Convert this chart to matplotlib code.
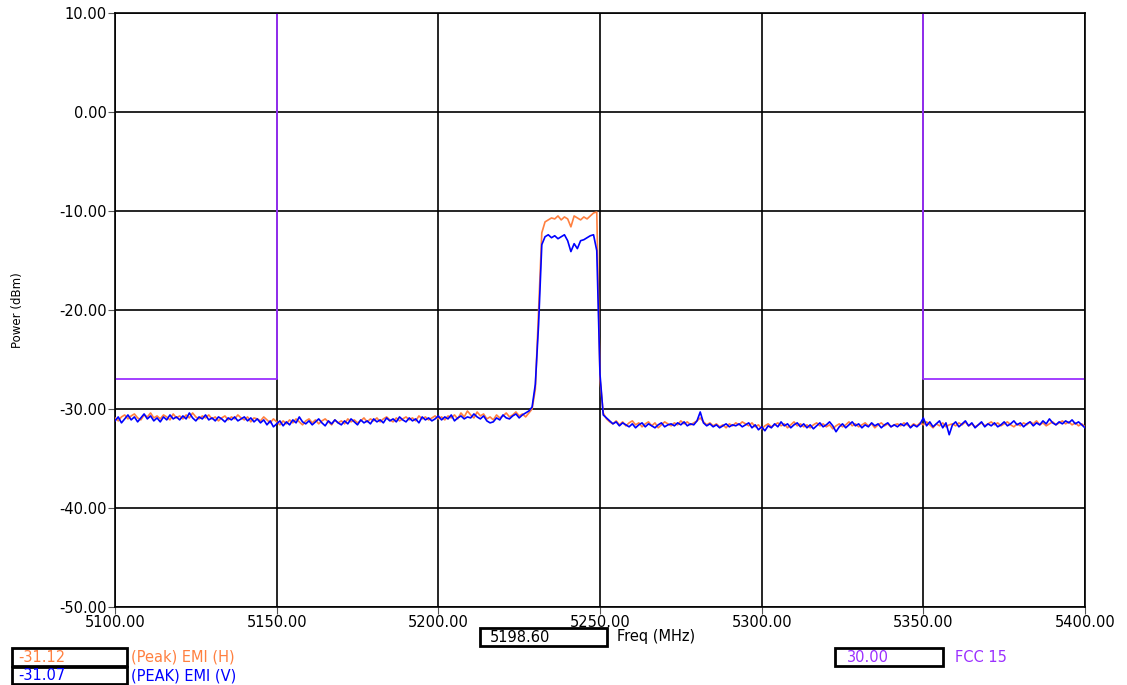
import numpy as np
import matplotlib.pyplot as plt
from matplotlib.patches import Rectangle

# sweep 5100..5400 MHz, 1 MHz steps
freq = np.arange(5100, 5401, 1)

emi_h = [
    -30.9, -31.2, -30.8, -30.6, -31.0, -30.7, -30.5, -30.9, -31.1, -30.6,
    -30.8, -30.4, -30.9, -30.7, -31.0, -30.6, -30.8, -31.1, -30.5, -30.9,
    -30.7, -31.0, -30.6, -30.9, -30.4, -30.8, -31.0, -30.7, -30.9, -30.6,
    -31.0, -30.8, -31.2, -30.9, -30.7, -31.1, -30.8, -31.0, -30.6, -30.9,
    -31.1, -30.8, -31.3, -30.9, -31.0, -31.2, -30.8, -31.1, -31.4, -31.0,
    -31.3, -31.6, -31.2, -31.5, -31.1, -31.4, -31.0, -31.3, -31.6, -31.2,
    -31.0, -31.4, -31.1, -31.5, -31.2, -31.0, -31.3, -31.6, -31.1, -31.4,
    -31.2, -31.5, -31.0, -31.3, -31.1, -31.4, -31.2, -30.9, -31.3, -31.0,
    -31.2, -30.9, -31.3, -31.0, -30.8, -31.1, -31.3, -30.9, -31.2, -31.0,
    -30.8, -31.1, -30.9, -31.2, -30.7, -31.0, -30.8, -31.1, -30.9, -30.7,
    -31.0, -30.8, -31.1, -30.7, -30.9, -30.6, -31.0, -30.4, -30.8, -30.2,
    -30.6, -30.9, -30.3, -30.7, -30.5, -31.0, -30.8, -31.1, -30.6, -30.9,
    -30.7, -30.4, -30.8, -30.6, -30.3, -30.7, -30.5, -30.8, -30.4,
    # 5229 .. 5251
    -30.0, -28.0, -20.0, -12.2, -11.1, -10.9, -10.7, -10.8, -10.5, -10.9,
    -10.6, -10.8, -11.6, -10.5, -10.7, -10.9, -10.6, -10.8, -10.5, -10.2,
    -10.1, -27.0, -30.4,
    # 5252 .. 5400
    -31.0, -31.3, -31.5, -31.2, -31.6, -31.3, -31.7, -31.4, -31.2, -31.6,
    -31.4, -31.8, -31.5, -31.3, -31.7, -31.4, -31.9, -31.6, -31.3, -31.5,
    -31.7, -31.4, -31.6, -31.2, -31.5, -31.3, -31.6, -31.4, -31.2, -30.9,
    -31.3, -31.6, -31.4, -31.7, -31.5, -31.8, -31.6, -31.9, -31.5, -31.7,
    -31.4, -31.6, -31.3, -31.5, -31.7, -31.4, -31.8, -31.6, -32.0, -31.7,
    -31.5, -31.8, -31.6, -31.4, -31.7, -31.5, -31.9, -31.6, -31.3, -31.7,
    -31.5, -31.8, -31.6, -31.9, -31.6, -31.4, -31.7, -31.5, -31.8, -31.6,
    -32.0, -31.7, -31.5, -31.8, -31.6, -31.3, -31.7, -31.5, -31.8, -31.6,
    -31.4, -31.7, -31.5, -31.9, -31.6, -31.4, -31.7, -31.5, -31.8, -31.6,
    -31.5, -31.7, -31.4, -31.6, -31.8, -31.5, -31.7, -31.4, -31.6, -31.3,
    -31.6, -31.9, -31.5, -31.7, -31.4, -31.8, -31.6, -31.5, -31.7, -31.4,
    -31.6, -31.3, -31.7, -31.5, -31.8, -31.6, -31.4, -31.7, -31.5, -31.3,
    -31.6, -31.4, -31.7, -31.5, -31.3, -31.6, -31.8, -31.5, -31.7, -31.4,
    -31.6, -31.3, -31.5, -31.2, -31.6, -31.4, -31.7, -31.5, -31.3, -31.6,
    -31.4, -31.2, -31.5, -31.3, -31.6, -31.4, -31.7, -31.5, -31.8,
]

emi_v = [
    -31.2, -30.8, -31.4, -31.0, -30.6, -31.1, -30.8, -31.3, -30.9, -30.5,
    -31.0, -30.7, -31.2, -30.9, -31.3, -30.8, -31.1, -30.6, -31.0, -30.8,
    -31.1, -30.7, -31.0, -30.4, -30.9, -31.2, -30.8, -31.0, -30.6, -31.1,
    -30.9, -31.2, -30.8, -31.0, -31.3, -30.9, -31.1, -30.8, -31.2, -31.0,
    -30.8, -31.2, -30.9, -31.3, -31.0, -31.4, -31.1, -31.6, -31.2, -31.8,
    -31.5, -31.2, -31.7, -31.3, -31.6, -31.1, -31.4, -30.8, -31.3, -31.5,
    -31.2, -31.6, -31.3, -31.0, -31.4, -31.7, -31.2, -31.5, -31.1, -31.4,
    -31.6, -31.2, -31.5, -31.0, -31.3, -31.6, -31.1, -31.4, -31.2, -31.5,
    -31.0, -31.3, -31.1, -31.4, -30.9, -31.2, -31.0, -31.3, -30.8, -31.1,
    -31.3, -30.9, -31.2, -31.0, -31.4, -30.8, -31.1, -30.9, -31.2, -31.0,
    -30.7, -31.1, -30.8, -31.0, -30.6, -31.2, -30.9, -30.7, -31.0, -30.8,
    -30.9, -30.5, -30.8, -31.0, -30.7, -31.2, -31.4, -31.3, -30.9, -31.1,
    -30.6, -30.9, -31.0, -30.7, -30.5, -30.9, -30.6, -30.4, -30.2,
    # 5229 .. 5251
    -29.8, -27.5, -21.5, -13.4, -12.6, -12.4, -12.7, -12.5, -12.8, -12.6,
    -12.4, -13.0, -14.1, -13.3, -13.8, -13.0, -12.9, -12.7, -12.5, -12.4,
    -14.0, -26.5, -30.6,
    # 5252 .. 5400
    -30.9, -31.2, -31.5, -31.3, -31.7, -31.4, -31.6, -31.8, -31.5, -31.9,
    -31.6, -31.4, -31.8, -31.5, -31.7, -31.9, -31.6, -31.4, -31.8, -31.6,
    -31.5, -31.7, -31.4, -31.6, -31.3, -31.7, -31.5, -31.6, -31.2, -30.3,
    -31.4, -31.7, -31.5, -31.8, -31.6, -31.9, -31.7, -31.5, -31.8, -31.6,
    -31.7, -31.5, -31.8, -31.6, -31.4, -31.9, -31.6, -32.1, -31.8, -32.2,
    -31.7, -31.9, -31.5, -31.8, -31.3, -31.7, -31.5, -31.9, -31.6, -31.4,
    -31.8, -31.5, -31.9, -31.6, -32.0, -31.7, -31.4, -31.8, -31.6, -31.3,
    -31.7, -32.3, -31.8, -31.5, -31.9, -31.6, -31.3, -31.7, -31.5, -31.9,
    -31.6, -31.8, -31.4, -31.7, -31.5, -31.9, -31.6, -31.4, -31.8, -31.6,
    -31.8, -31.5, -31.7, -31.4, -31.9, -31.6, -31.8, -31.5, -30.9, -31.7,
    -31.3, -31.8, -31.5, -31.2, -31.9, -31.4, -32.6, -31.6, -31.3, -31.8,
    -31.5, -31.2, -31.7, -31.4, -31.9, -31.6, -31.3, -31.8, -31.5, -31.7,
    -31.4, -31.8, -31.6, -31.3, -31.7, -31.5, -31.2, -31.6, -31.4, -31.8,
    -31.5, -31.3, -31.7, -31.4, -31.6, -31.2, -31.5, -31.0, -31.4, -31.6,
    -31.3, -31.5, -31.2, -31.4, -31.1, -31.5, -31.3, -31.6, -31.9,
]

# FCC 15 limit line (restricted band edges)
limit_f = [5100, 5150, 5150, 5350, 5350, 5400]
limit_db = [-27.0, -27.0, 20.0, 20.0, -27.0, -27.0]

xticks = [5100, 5150, 5200, 5250, 5300, 5350, 5400]
yticks = [10, 0, -10, -20, -30, -40, -50]

c_h = '#ff8040'
c_v = '#0000ff'
c_lim = '#9b30ff'

W, H = 1127, 685
fig = plt.figure(figsize=(W / 100, H / 100), dpi=100)
ax = fig.add_axes([115 / W, 1 - 607 / H, 970 / W, 594 / H])

ax.plot(limit_f, limit_db, color=c_lim, lw=1.3, zorder=2)
ax.plot(freq, emi_h, color=c_h, lw=1.2, zorder=3)
ax.plot(freq, emi_v, color=c_v, lw=1.2, zorder=4)

ax.set_xlim(5100, 5400)
ax.set_ylim(-50, 10)
ax.set_xticks(xticks)
ax.set_yticks(yticks)
ax.set_xticklabels(['%.2f' % v for v in xticks])
ax.set_yticklabels(['%.2f' % v for v in yticks])
ax.grid(True, color='black', lw=1.2, zorder=1)
ax.tick_params(direction='out', length=5, color='#555555', labelsize=10.5, pad=1)
for s in ax.spines.values():
    s.set_color('black')
    s.set_linewidth(1.2)
ax.set_ylabel('Power (dBm)', fontsize=8.5)
ax.yaxis.set_label_coords((24 - 115) / 970, 0.5)

# readout boxes under the plot
def box(x0, y0, w, h, txt, color, pad):
    fig.add_artist(Rectangle((x0 / W, 1 - (y0 + h) / H), w / W, h / H,
                             transform=fig.transFigure, fill=False,
                             ec='black', lw=2))
    fig.text((x0 + pad) / W, 1 - (y0 + h / 2) / H, txt, color=color,
             fontsize=10.5, va='center', ha='left')

box(480, 628, 127, 18, '5198.60', 'black', 10)
fig.text(617 / W, 1 - 637 / H, 'Freq (MHz)', fontsize=10.5, va='center')

box(12, 648, 115, 18, '-31.12', c_h, 6)
fig.text(131 / W, 1 - 657 / H, '(Peak) EMI (H)', color=c_h, fontsize=10.5, va='center')
box(12, 667, 115, 17, '-31.07', c_v, 6)
fig.text(131 / W, 1 - 676 / H, '(PEAK) EMI (V)', color=c_v, fontsize=10.5, va='center')

box(835, 648, 108, 18, '30.00', c_lim, 12)
fig.text(955 / W, 1 - 657 / H, 'FCC 15', color=c_lim, fontsize=10.5, va='center')

plt.savefig('out.png', dpi=100)
